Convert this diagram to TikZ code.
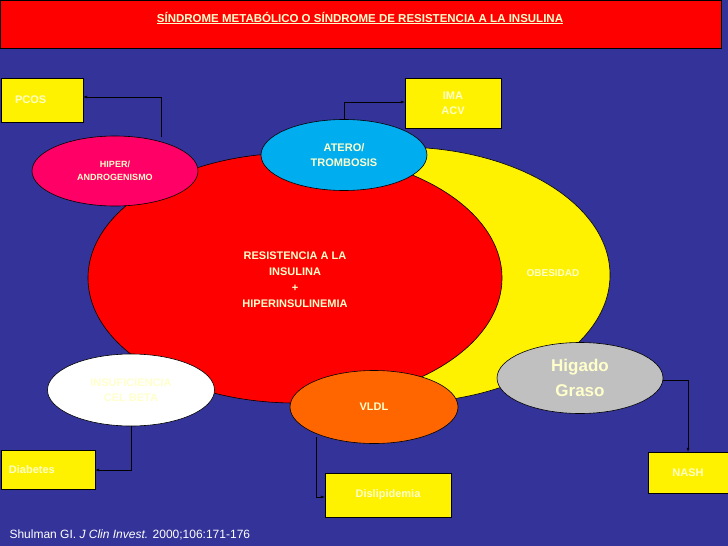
\documentclass[tikz,border=0pt]{standalone}
\usepackage{fontspec}
\setmainfont{Liberation Sans}
\usetikzlibrary{shapes.geometric,arrows.meta}
\definecolor{bg}{HTML}{333399}
\definecolor{pale}{HTML}{FFFFCC}
\definecolor{mag}{HTML}{FF0066}
\definecolor{org}{HTML}{FF6600}
\definecolor{gry}{HTML}{C0C0C0}
\begin{document}
\begin{tikzpicture}[x=1pt,y=-1pt,
  ell/.style={ellipse,draw=black,line width=0.6pt,inner sep=0pt,font=\bfseries\fontsize{10}{11}\selectfont,align=center},
  ybox/.style={rectangle,draw=black,fill=yellow,inner sep=0pt,font=\bfseries\fontsize{11}{13}\selectfont,text=pale,align=center},
  con/.style={draw=black,line width=0.6pt,-{Latex[length=4pt,width=3pt]}}]
\fill[bg] (0,0) rectangle (728,546);
\useasboundingbox (0,0) rectangle (728,546);
\node[draw=black,fill=red,minimum width=721pt,minimum height=48pt,inner sep=0pt] (title) at (360.5,24) {};
\node[text=pale,font=\bfseries\fontsize{11.5}{13}\selectfont] at (360,18) {\underline{SÍNDROME METABÓLICO O SÍNDROME DE RESISTENCIA A LA INSULINA}};
\node[ell,fill=yellow,minimum width=420pt,minimum height=256pt] (obes) at (400,275) {};
\node[ell,fill=red,minimum width=414pt,minimum height=250pt] (res) at (295,278) {};
\node[text=pale,font=\bfseries\fontsize{10}{11}\selectfont] (ob) at (553,273) {OBESIDAD};
\node[text=pale,font=\bfseries\fontsize{11}{16}\selectfont,align=center] (rt) at (295,280) {RESISTENCIA A LA\\INSULINA\\+\\HIPERINSULINEMIA};
\node[ell,fill=mag,text=pale,minimum width=166pt,minimum height=70pt,font=\bfseries\fontsize{9}{13}\selectfont] (hiper) at (115,171) {HIPER/\\ANDROGENISMO};
\node[ell,fill=cyan,text=pale,minimum width=166pt,minimum height=71pt,font=\bfseries\fontsize{11}{15}\selectfont] (atero) at (344,155) {ATERO/\\TROMBOSIS};
\node[ell,fill=white,text=pale,minimum width=167pt,minimum height=72pt,font=\bfseries\fontsize{11}{15}\selectfont] (insuf) at (131,390) {INSUFICIENCIA\\CEL BETA};
\node[ell,fill=org,text=pale,minimum width=168pt,minimum height=73pt,font=\bfseries\fontsize{11}{13}\selectfont] (vldl) at (374,407) {VLDL};
\node[ell,fill=gry,text=pale,minimum width=166pt,minimum height=71pt,font=\bfseries\fontsize{17}{25}\selectfont] (hig) at (580,378) {Higado\\Graso};
\node[ybox,minimum width=82pt,minimum height=44pt,text width=82pt,align=left] (pcos) at (42,100) {\hspace{14pt}PCOS};
\node[ybox,minimum width=96pt,minimum height=50pt,font=\bfseries\fontsize{11}{15}\selectfont] (ima) at (453,103) {IMA\\ACV};
\node[ybox,minimum width=94pt,minimum height=39pt,text width=94pt,align=left] (diab) at (48,469.5) {\hspace{8pt}Diabetes};
\node[ybox,minimum width=126pt,minimum height=44pt] (disl) at (388,495) {Dislipidemia};
\node[ybox,minimum width=80pt,minimum height=41pt] (nash) at (688,472.5) {NASH};
\node[anchor=west,text=white,font=\fontsize{12}{14}\selectfont] (cite) at (6,535) {Shulman GI. \textit{J Clin Invest.} 2000;106:171-176};
\draw[con] (161,137) |- (pcos.east |- 0,97);
\draw[con] (atero.north) |- (ima.west |- 0,102);
\draw[con] (insuf.south) |- (diab.east |- 0,470);
\draw[con] (316,437) |- (disl.west |- 0,497);
\draw[con] (hig.east |- 0,380) -| (nash.north);
\end{tikzpicture}
\end{document}
